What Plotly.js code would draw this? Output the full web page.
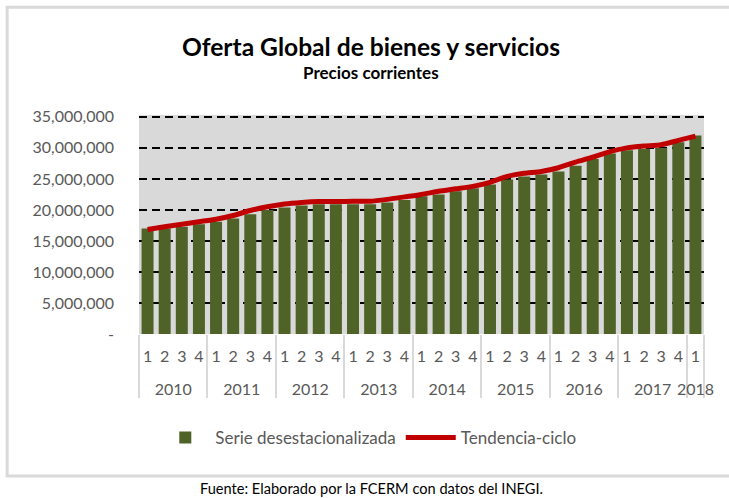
<!DOCTYPE html>
<html>
<head>
<meta charset="utf-8">
<script src="https://cdn.plot.ly/plotly-3.0.1.min.js"></script>
<style>
html,body{margin:0;padding:0;background:#fff;}
#chart{width:729px;height:498px;}
</style>
</head>
<body>
<div id="chart"></div>
<script>
// ---- data ----
const yearLabels = ["2010","2011","2012","2013","2014","2015","2016","2017","2018"];
const quartersPerYear = [4,4,4,4,4,4,4,4,1];
const quarterLabels = ["1","2","3","4"];
// Serie desestacionalizada (millions)
const serieDesest = [17.0,17.0,17.3,17.7, 18.1,18.6,19.3,20.0, 20.4,20.7,20.9,20.9,
  20.9,20.9,21.2,21.6, 22.2,22.5,23.0,23.5, 24.1,24.9,25.4,25.7,
  26.2,27.1,28.2,29.1, 29.6,29.8,30.0,30.9, 32.0];
// Tendencia-ciclo (millions)
const tendencia = [16.85,17.3,17.7,18.1, 18.5,19.1,19.9,20.5, 20.95,21.2,21.35,21.35,
  21.4,21.4,21.7,22.1, 22.5,23.0,23.4,23.8, 24.45,25.4,25.9,26.2,
  26.8,27.7,28.5,29.4, 30.0,30.3,30.5,31.2, 31.9];
const yTickVals = [0,5000000,10000000,15000000,20000000,25000000,30000000,35000000];
const yTickText = ["-","5,000,000","10,000,000","15,000,000","20,000,000","25,000,000","30,000,000","35,000,000"];

// ---- build categories ----
const xYears = [], xQuarters = [];
yearLabels.forEach((y,i)=>{
  for(let q=0;q<quartersPerYear[i];q++){
    xYears.push(y);
    xQuarters.push(quarterLabels[q]+"<br><span style='font-size:24px'>\u00a0</span>");
  }
});
const M = 1e6;
const barVals = serieDesest.map(v=>v*M);
const lineVals = tendencia.map(v=>v*M);

// pixel helpers for paper coordinates
const yMax = 35300000;
const L=138.5, R=704, B=334, T=B-(334-117)*yMax/35000000;
const px = x => (x-L)/(R-L);
const py = y => (B-y)/(B-T);

const font = "Lato, 'Open Sans', sans-serif";

const traces = [
  {type:'bar', name:'Serie desestacionalizada', x:[xYears,xQuarters], y:barVals,
   marker:{color:'#4f6228'}, hoverinfo:'y'},
  {type:'scatter', mode:'lines', name:'Tendencia-ciclo', x:[xYears,xQuarters], y:lineVals,
   line:{color:'#c00000', width:5, shape:'spline', smoothing:0.6}, hoverinfo:'y'}
];

const layout = {
  width:729, height:498,
  margin:{l:L, r:729-R, t:T, b:498-B},
  paper_bgcolor:'#ffffff',
  plot_bgcolor:'#d9d9d9',
  font:{family:font, color:'#595959', size:16},
  bargap:0.3,
  showlegend:true,
  title:{text:'<b>Oferta Global de bienes y servicios</b>', font:{family:font, size:24.6, color:'#000'},
    x:371/729, xref:'container', xanchor:'center', y:1-47/498, yref:'container', yanchor:'middle'},
  xaxis:{type:'multicategory', range:[-0.5,32.5], tickmode:'linear', tick0:0, dtick:1, tickangle:0,
    showgrid:false, zeroline:false, showline:false, ticklabelstandoff:11,
    showdividers:true, dividercolor:'#d9d9d9', dividerwidth:2,
    tickfont:{family:font, size:16, color:'#595959'}, ticks:''},
  yaxis:{range:[0,yMax], tickvals:yTickVals, ticktext:yTickText,
    showgrid:true, gridcolor:'#000000', gridwidth:2, griddash:'8px,5px',
    zeroline:false, showline:false, ticks:'', ticklabelstandoff:24,
    tickfont:{family:font, size:16, color:'#595959'}},
  legend:{orientation:'h', x:px(368), xanchor:'center', y:py(438), yanchor:'middle',
    font:{family:font, size:17, color:'#595959'}, bgcolor:'rgba(0,0,0,0)', itemwidth:50},
  annotations:[
    {text:'<b>Precios corrientes</b>', xref:'paper', yref:'paper', x:px(371), y:py(73),
     xanchor:'center', yanchor:'middle', showarrow:false, font:{family:font, size:17, color:'#000'}},
    {text:'Fuente: Elaborado por la FCERM con datos del INEGI.', xref:'paper', yref:'paper',
     x:px(371), y:py(488), xanchor:'center', yanchor:'middle', showarrow:false,
     font:{family:font, size:14.6, color:'#000'}}
  ],
  shapes:[
    {type:'rect', xref:'paper', yref:'paper', x0:px(6.5), x1:px(735), y0:py(476), y1:py(7.5),
     line:{color:'#d9d9d9', width:3}, fillcolor:'rgba(0,0,0,0)', layer:'below'}
  ]
};

Plotly.newPlot('chart', traces, layout, {displayModeBar:false, staticPlot:true});
</script>
</body>
</html>
